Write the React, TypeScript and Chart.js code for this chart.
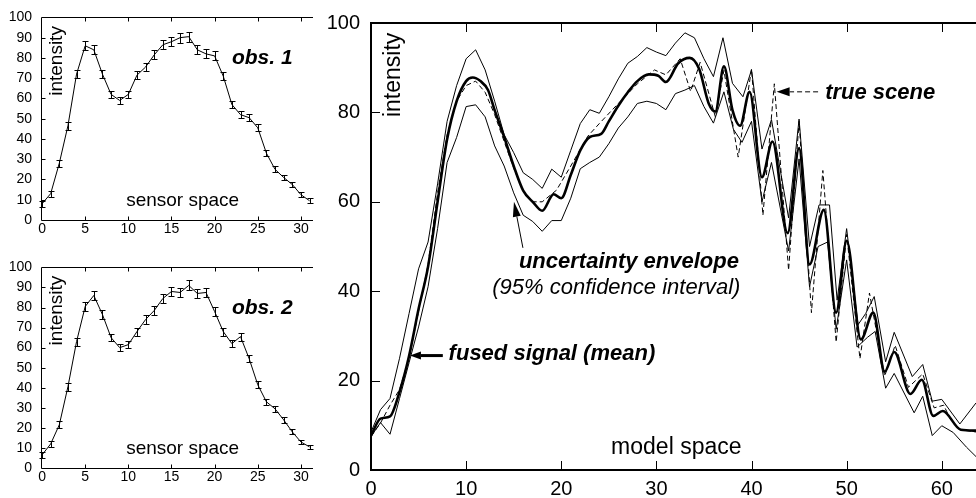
import React, { useEffect, useRef } from 'react';
import { Chart, registerables } from 'chart.js';

Chart.register(...registerables);

const FONT = '"Liberation Sans", Arial, Helvetica, sans-serif';

// ---------- sensor space observations ----------
const sensorX = [0, 1, 2, 3, 4, 5, 6, 7, 8, 9, 10, 11, 12, 13, 14, 15, 16, 17, 18, 19, 20, 21, 22, 23, 24, 25, 26, 27, 28, 29, 30, 31];
const obs1Y = [8, 13, 28, 46.5, 72, 86, 84, 72, 62, 59, 62, 71.5, 75.5, 81.5, 86.5, 88, 90, 90.5, 84, 82, 81, 71, 57, 52, 50.5, 45.5, 33, 25, 21, 17.5, 12.5, 9.5];
const obs1Err = [1.5, 1.5, 1.8, 2, 2, 2.3, 2.3, 2, 1.8, 1.8, 1.8, 2, 2, 2.2, 2.2, 2.3, 2.4, 2.5, 2.2, 2.2, 2.2, 2, 1.8, 1.7, 1.8, 1.7, 1.5, 1.5, 1.3, 1.3, 1.2, 1.2];
const obs2Y = [6.5, 12, 21.5, 40.5, 63, 80.5, 86, 76.5, 65, 60, 61.5, 68, 74, 78.5, 84.5, 88, 87.5, 91, 87, 87.5, 78, 68, 62, 65.5, 54.5, 41.5, 33, 29.5, 24, 18, 13, 10.5];
const obs2Err = [1.4, 1.5, 1.7, 1.9, 2, 2.2, 2.4, 2.1, 1.9, 1.8, 1.9, 2, 2.1, 2.2, 2.3, 2.4, 2.4, 2.5, 2.4, 2.4, 2.2, 2, 1.9, 2, 1.8, 1.7, 1.6, 1.5, 1.4, 1.3, 1.2, 1.2];
const sensorXTicks = [0, 5, 10, 15, 20, 25, 30];
const sensorYTicks = [0, 10, 20, 30, 40, 50, 60, 70, 80, 90, 100];

// ---------- model space ----------
const meanX = [0, 1, 2, 3, 4, 5, 6, 7, 8, 9, 10, 10.7, 11.5, 12.3, 13, 14, 15, 16, 17, 18, 19.2, 20, 21, 22, 23, 24.2, 25, 26, 27, 28, 29.2, 30.2, 31, 32.3, 33.5, 34.5, 35.5, 36.2, 37.1, 38, 38.8, 39.8, 41.1, 42.2, 43.8, 45, 46.1, 47.6, 48.9, 50, 51.5, 52.8, 54, 55, 56.7, 57.9, 59.1, 60.1, 62, 63.6];
const meanY = [7.7, 11.5, 12, 17.5, 25.5, 36, 45.5, 60, 74, 82.5, 87, 87.8, 87, 85, 80.5, 74.5, 68, 62.5, 60, 58, 61.7, 60.8, 66, 71.5, 74.5, 75.2, 78, 81.5, 84.5, 87, 88.5, 88.2, 86.8, 91, 92.2, 89.7, 82, 80.2, 90.3, 80.5, 77, 84.6, 65.5, 73.5, 53, 72, 46, 58.2, 35.2, 51.3, 29.2, 35.2, 22, 26.4, 17, 20.2, 12.1, 13.2, 9, 8.8];

const upperX = [0, 1, 2, 3, 4, 5, 6, 7, 8, 9, 10, 11, 12, 13, 14, 15, 16, 17, 18, 19, 20, 21, 22, 23, 24, 25, 26, 27, 28, 29, 30, 31, 32, 33, 34, 35, 36, 37, 38, 39.1, 40, 41.1, 42.1, 43.9, 45, 46.1, 47.1, 48.2, 49, 50, 51.2, 52, 52.9, 54.1, 55, 56.9, 58, 59, 60, 61.9, 63.6];
const upperY = [8.5, 13.5, 16, 25, 35, 45, 51, 64, 78, 86, 92, 94, 89.5, 82.5, 75, 71, 66.5, 65, 63, 67.3, 65.5, 71.5, 77.5, 80.6, 79.8, 83.5, 87.5, 91, 92.5, 94.5, 93.5, 92.7, 95.5, 97.8, 96.7, 92, 88, 96.7, 86.5, 83.5, 89.5, 71.8, 78.4, 56.4, 78.5, 50, 59.3, 59.3, 38, 54, 32.5, 35, 38.8, 24.2, 30.8, 20.9, 23.6, 15.4, 15.8, 10.3, 15];

const lowerX = [0, 1, 2, 3, 4, 5, 6, 7, 8, 9, 10, 11, 12, 13, 14, 15, 16, 17, 18, 19, 20, 21, 22, 23, 24, 25, 26, 27, 28, 29, 30, 31, 32, 33, 34, 35, 36, 37.1, 38.1, 39, 40, 41.1, 42.1, 43.9, 45, 46.1, 47, 48, 48.9, 50, 51.1, 52.2, 53, 54.1, 55, 57.1, 58, 59, 60, 61.2, 62.6, 63.6];
const lowerY = [7.5, 10.6, 8, 16, 24, 32, 41, 54, 68.8, 74.4, 81.3, 81.7, 79, 72.5, 68, 62, 57, 55.6, 53.4, 55.8, 55.8, 60.8, 67.4, 68.8, 70, 73, 76.5, 79, 82, 82.5, 82, 80.6, 84.2, 85, 86, 81.3, 77.6, 84.6, 76.2, 73.3, 78, 60, 68.8, 49, 69.6, 41, 50, 51, 31.5, 47, 27.5, 29.7, 31, 18.3, 21.6, 12.8, 16.5, 7.7, 9.9, 8.4, 5.1, 3];

const trueX = [0, 1, 2, 3, 4, 5, 6, 7, 8, 9, 10, 11, 12, 13, 14, 15, 16, 17, 18, 19.5, 21, 22.8, 24, 26, 28, 29.8, 31, 32.5, 33.6, 34.6, 36.2, 37.1, 38.6, 40, 41.2, 42.4, 43.9, 45, 46.3, 47.5, 48.9, 50, 51.4, 52.4, 54, 55.1, 56.5, 58, 59.2, 60.2, 61, 62, 63.6];
const trueY = [7.5, 10.5, 14.5, 18, 25, 35.5, 46, 62, 75, 82.5, 86, 87, 84.5, 79.5, 73.5, 67.5, 62.5, 60, 60, 62.6, 68, 74.7, 77.5, 82, 86.4, 89.5, 88.4, 92, 84.7, 91.2, 79, 89.4, 70, 89.7, 57, 86.4, 44.7, 78, 35.2, 67, 28.6, 52.7, 24.9, 39.6, 21, 27.9, 18.5, 21.5, 13.9, 14.5, 11, 9, 8.5];

const modelXTicks = [0, 10, 20, 30, 40, 50, 60];
const modelYTicks = [0, 20, 40, 60, 80, 100];

const pts = (xs: number[], ys: number[]) => xs.map((x, i) => ({ x, y: ys[i] }));

type Ann =
  | { t: 'text'; x: number; y: number; text: string; font: string; rotate?: boolean }
  | { t: 'arrow'; x1: number; y1: number; x2: number; y2: number; width: number; dash?: number[]; headLen: number; headW: number };

interface DecorCfg {
  frameWidth: number;
  tickLen: number;
  xTicks: number[];
  yTicks: number[];
  errors?: number[];
  cap?: number;
  anns: Ann[];
}

function decorPlugin(cfg: DecorCfg) {
  return {
    id: 'decor',
    afterDatasetsDraw(chart: any) {
      if (!cfg.errors) return;
      const { ctx } = chart;
      const xs = chart.scales.x;
      const ys = chart.scales.y;
      const data = chart.data.datasets[0].data as { x: number; y: number }[];
      const cap = cfg.cap || 3;
      ctx.save();
      ctx.strokeStyle = '#000';
      ctx.lineWidth = 1;
      data.forEach((p, i) => {
        const e = cfg.errors![i];
        const px = Math.round(xs.getPixelForValue(p.x)) + 0.5;
        const t = Math.round(ys.getPixelForValue(p.y + e)) + 0.5;
        const b = Math.round(ys.getPixelForValue(p.y - e)) + 0.5;
        ctx.beginPath();
        ctx.moveTo(px, t);
        ctx.lineTo(px, b);
        ctx.moveTo(px - cap, t);
        ctx.lineTo(px + cap, t);
        ctx.moveTo(px - cap, b);
        ctx.lineTo(px + cap, b);
        ctx.stroke();
      });
      ctx.restore();
    },
    afterDraw(chart: any) {
      const { ctx, chartArea: a } = chart;
      const xs = chart.scales.x;
      const ys = chart.scales.y;
      ctx.save();
      ctx.strokeStyle = '#000';
      ctx.fillStyle = '#000';
      // frame
      ctx.lineWidth = cfg.frameWidth;
      const off = cfg.frameWidth % 2 === 1 ? 0.5 : 0;
      const L = Math.round(a.left) + off;
      const T = Math.round(a.top) + off;
      const B = Math.round(a.bottom) + off;
      const R = Math.round(a.right);
      ctx.beginPath();
      ctx.moveTo(R, T);
      ctx.lineTo(L, T);
      ctx.lineTo(L, B);
      ctx.lineTo(R, B);
      ctx.stroke();
      // inward ticks
      ctx.lineWidth = 1;
      ctx.beginPath();
      cfg.xTicks.forEach((v) => {
        const px = Math.round(xs.getPixelForValue(v)) + 0.5;
        if (px <= L + 1) return;
        ctx.moveTo(px, B);
        ctx.lineTo(px, B - cfg.tickLen);
        ctx.moveTo(px, T);
        ctx.lineTo(px, T + cfg.tickLen);
      });
      cfg.yTicks.forEach((v) => {
        const py = Math.round(ys.getPixelForValue(v)) + 0.5;
        if (py >= B - 1 || py <= T + 1) return;
        ctx.moveTo(L, py);
        ctx.lineTo(L + cfg.tickLen, py);
      });
      ctx.stroke();
      // annotations
      cfg.anns.forEach((an) => {
        if (an.t === 'text') {
          const px = xs.getPixelForValue(an.x);
          const py = ys.getPixelForValue(an.y);
          ctx.font = an.font;
          if (an.rotate) {
            ctx.save();
            ctx.translate(px, py);
            ctx.rotate(-Math.PI / 2);
            ctx.textAlign = 'center';
            ctx.textBaseline = 'middle';
            ctx.fillText(an.text, 0, 0);
            ctx.restore();
          } else {
            ctx.textAlign = 'left';
            ctx.textBaseline = 'alphabetic';
            ctx.fillText(an.text, px, py);
          }
        } else {
          const x1 = xs.getPixelForValue(an.x1);
          const y1 = ys.getPixelForValue(an.y1);
          const x2 = xs.getPixelForValue(an.x2);
          const y2 = ys.getPixelForValue(an.y2);
          const ang = Math.atan2(y2 - y1, x2 - x1);
          const c = Math.cos(ang);
          const s = Math.sin(ang);
          const bx = x2 - an.headLen * c;
          const by = y2 - an.headLen * s;
          ctx.lineWidth = an.width;
          ctx.setLineDash(an.dash || []);
          ctx.beginPath();
          ctx.moveTo(x1, y1);
          ctx.lineTo(bx, by);
          ctx.stroke();
          ctx.setLineDash([]);
          ctx.beginPath();
          ctx.moveTo(x2, y2);
          ctx.lineTo(bx - an.headW * s, by + an.headW * c);
          ctx.lineTo(bx + an.headW * s, by - an.headW * c);
          ctx.closePath();
          ctx.fill();
        }
      });
      ctx.restore();
    },
  };
}

function smallConfig(ys: number[], errs: number[], label: string): any {
  return {
    type: 'line',
    data: {
      datasets: [
        {
          data: pts(sensorX, ys),
          borderColor: '#000',
          borderWidth: 1,
          pointRadius: 0,
          tension: 0,
          fill: false,
        },
      ],
    },
    options: {
      responsive: false,
      animation: false,
      devicePixelRatio: 1,
      layout: { padding: { top: 14, right: 7, left: 0, bottom: 0 } },
      plugins: { legend: { display: false }, tooltip: { enabled: false } },
      scales: {
        x: {
          type: 'linear',
          min: -0.12,
          max: 31.4,
          grid: { display: false, drawTicks: false },
          border: { display: false },
          ticks: { color: '#000', font: { family: FONT, size: 14 }, padding: 1, maxRotation: 0 },
          afterBuildTicks: (s: any) => {
            s.ticks = sensorXTicks.map((v) => ({ value: v }));
          },
          afterFit: (s: any) => {
            s.height = 30;
          },
        },
        y: {
          type: 'linear',
          min: 0,
          max: 100,
          grid: { display: false, drawTicks: false },
          border: { display: false },
          ticks: { color: '#000', font: { family: FONT, size: 14 }, padding: 9 },
          afterBuildTicks: (s: any) => {
            s.ticks = sensorYTicks.map((v) => ({ value: v }));
          },
          afterFit: (s: any) => {
            s.width = 41;
          },
        },
      },
    },
    plugins: [
      decorPlugin({
        frameWidth: 1,
        tickLen: 4,
        xTicks: sensorXTicks,
        yTicks: sensorYTicks,
        errors: errs,
        cap: 3,
        anns: [
          { t: 'text', x: 1.65, y: 78.5, text: 'intensity', font: `19px ${FONT}`, rotate: true },
          { t: 'text', x: 22.0, y: 77.0, text: label, font: `italic bold 21px ${FONT}` },
          { t: 'text', x: 9.75, y: 6.8, text: 'sensor space', font: `19px ${FONT}` },
        ],
      }),
    ],
  };
}

function mainConfig(): any {
  return {
    type: 'line',
    data: {
      datasets: [
        { data: pts(upperX, upperY), borderColor: '#000', borderWidth: 1, pointRadius: 0, tension: 0, fill: false },
        { data: pts(lowerX, lowerY), borderColor: '#000', borderWidth: 1, pointRadius: 0, tension: 0, fill: false },
        { data: pts(trueX, trueY), borderColor: '#000', borderWidth: 1, borderDash: [5, 3], pointRadius: 0, tension: 0, fill: false },
        { data: pts(meanX, meanY), borderColor: '#000', borderWidth: 2.6, pointRadius: 0, cubicInterpolationMode: 'monotone', fill: false },
      ],
    },
    options: {
      responsive: false,
      animation: false,
      devicePixelRatio: 1,
      layout: { padding: { top: 15, right: 0, left: 0, bottom: 0 } },
      plugins: { legend: { display: false }, tooltip: { enabled: false } },
      scales: {
        x: {
          type: 'linear',
          min: 0,
          max: 63.6,
          grid: { display: false, drawTicks: false },
          border: { display: false },
          ticks: { color: '#000', font: { family: FONT, size: 20 }, padding: 7, maxRotation: 0 },
          afterBuildTicks: (s: any) => {
            s.ticks = modelXTicks.map((v) => ({ value: v }));
          },
          afterFit: (s: any) => {
            s.height = 28;
          },
        },
        y: {
          type: 'linear',
          min: 0,
          max: 100,
          grid: { display: false, drawTicks: false },
          border: { display: false },
          ticks: { color: '#000', font: { family: FONT, size: 20 }, padding: 11 },
          afterBuildTicks: (s: any) => {
            s.ticks = modelYTicks.map((v) => ({ value: v }));
          },
          afterFit: (s: any) => {
            s.width = 51;
          },
        },
      },
    },
    plugins: [
      decorPlugin({
        frameWidth: 2,
        tickLen: 9,
        xTicks: modelXTicks,
        yTicks: modelYTicks,
        anns: [
          { t: 'text', x: 2.42, y: 88.4, text: 'intensity', font: `23px ${FONT}`, rotate: true },
          { t: 'text', x: 25.24, y: 3.5, text: 'model space', font: `23px ${FONT}` },
          { t: 'text', x: 47.74, y: 83.1, text: 'true scene', font: `italic bold 22px ${FONT}` },
          { t: 'arrow', x1: 47.0, y1: 84.6, x2: 42.64, y2: 84.6, width: 1, dash: [5, 3], headLen: 13, headW: 4.5 },
          { t: 'text', x: 15.55, y: 45.3, text: 'uncertainty envelope', font: `italic bold 22px ${FONT}` },
          { t: 'text', x: 12.74, y: 39.3, text: '(95% confidence interval)', font: `italic 22px ${FONT}` },
          { t: 'arrow', x1: 15.97, y1: 49.7, x2: 15.03, y2: 60.0, width: 1, headLen: 15, headW: 4 },
          { t: 'text', x: 8.16, y: 24.6, text: 'fused signal (mean)', font: `italic bold 22px ${FONT}` },
          { t: 'arrow', x1: 7.55, y1: 25.6, x2: 4.09, y2: 25.6, width: 3, headLen: 11, headW: 4 },
        ],
      }),
    ],
  };
}

export default function App() {
  const r1 = useRef<HTMLCanvasElement>(null);
  const r2 = useRef<HTMLCanvasElement>(null);
  const r3 = useRef<HTMLCanvasElement>(null);

  useEffect(() => {
    const c1 = new Chart(r1.current!, smallConfig(obs1Y, obs1Err, 'obs. 1'));
    const c2 = new Chart(r2.current!, smallConfig(obs2Y, obs2Err, 'obs. 2'));
    const c3 = new Chart(r3.current!, mainConfig());
    return () => {
      c1.destroy();
      c2.destroy();
      c3.destroy();
    };
  }, []);

  return (
    <div style={{ position: 'fixed', left: 0, top: 0, width: 976, height: 498, background: '#fff', overflow: 'hidden' }}>
      <canvas ref={r1} width={320} height={250} style={{ position: 'absolute', left: 0, top: 0, width: 320, height: 250 }} />
      <canvas ref={r2} width={320} height={248} style={{ position: 'absolute', left: 0, top: 250, width: 320, height: 248 }} />
      <canvas ref={r3} width={656} height={498} style={{ position: 'absolute', left: 320, top: 0, width: 656, height: 498 }} />
    </div>
  );
}
